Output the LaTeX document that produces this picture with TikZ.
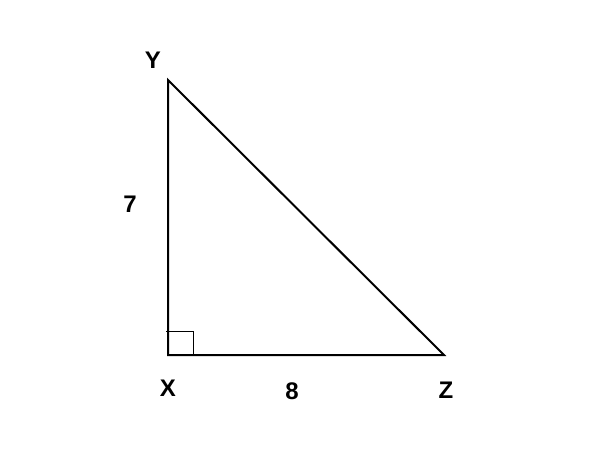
\documentclass[tikz,border=0pt]{standalone}
\usepackage{fontspec}
\setmainfont{Liberation Sans}
\begin{document}
\begin{tikzpicture}[x=0.75pt,y=-0.75pt,
  lbl/.style={font=\fontsize{18}{20}\selectfont\bfseries, inner sep=0pt},
  side/.style={line width=1.5pt, line join=miter},
  anglemark/.style={line width=0.75pt}]
\useasboundingbox (0,0) rectangle (600,450);
\coordinate (X) at (168,355);
\coordinate (Y) at (168,80);
\coordinate (Z) at (444,355);
\draw[side] (X) -- (Y) -- (Z) -- cycle;
\coordinate (m1) at (166,331);
\coordinate (m2) at (193,331);
\coordinate (m3) at (193,355);
\draw[anglemark] (m1) -- (m2) -- (m3);
\node[lbl] (ly) at (153,60) {Y};
\node[lbl] (l7) at (130,204) {7};
\node[lbl] (lx) at (168,388) {X};
\node[lbl] (l8) at (292,391) {8};
\node[lbl] (lz) at (446,390) {Z};
\end{tikzpicture}
\end{document}
